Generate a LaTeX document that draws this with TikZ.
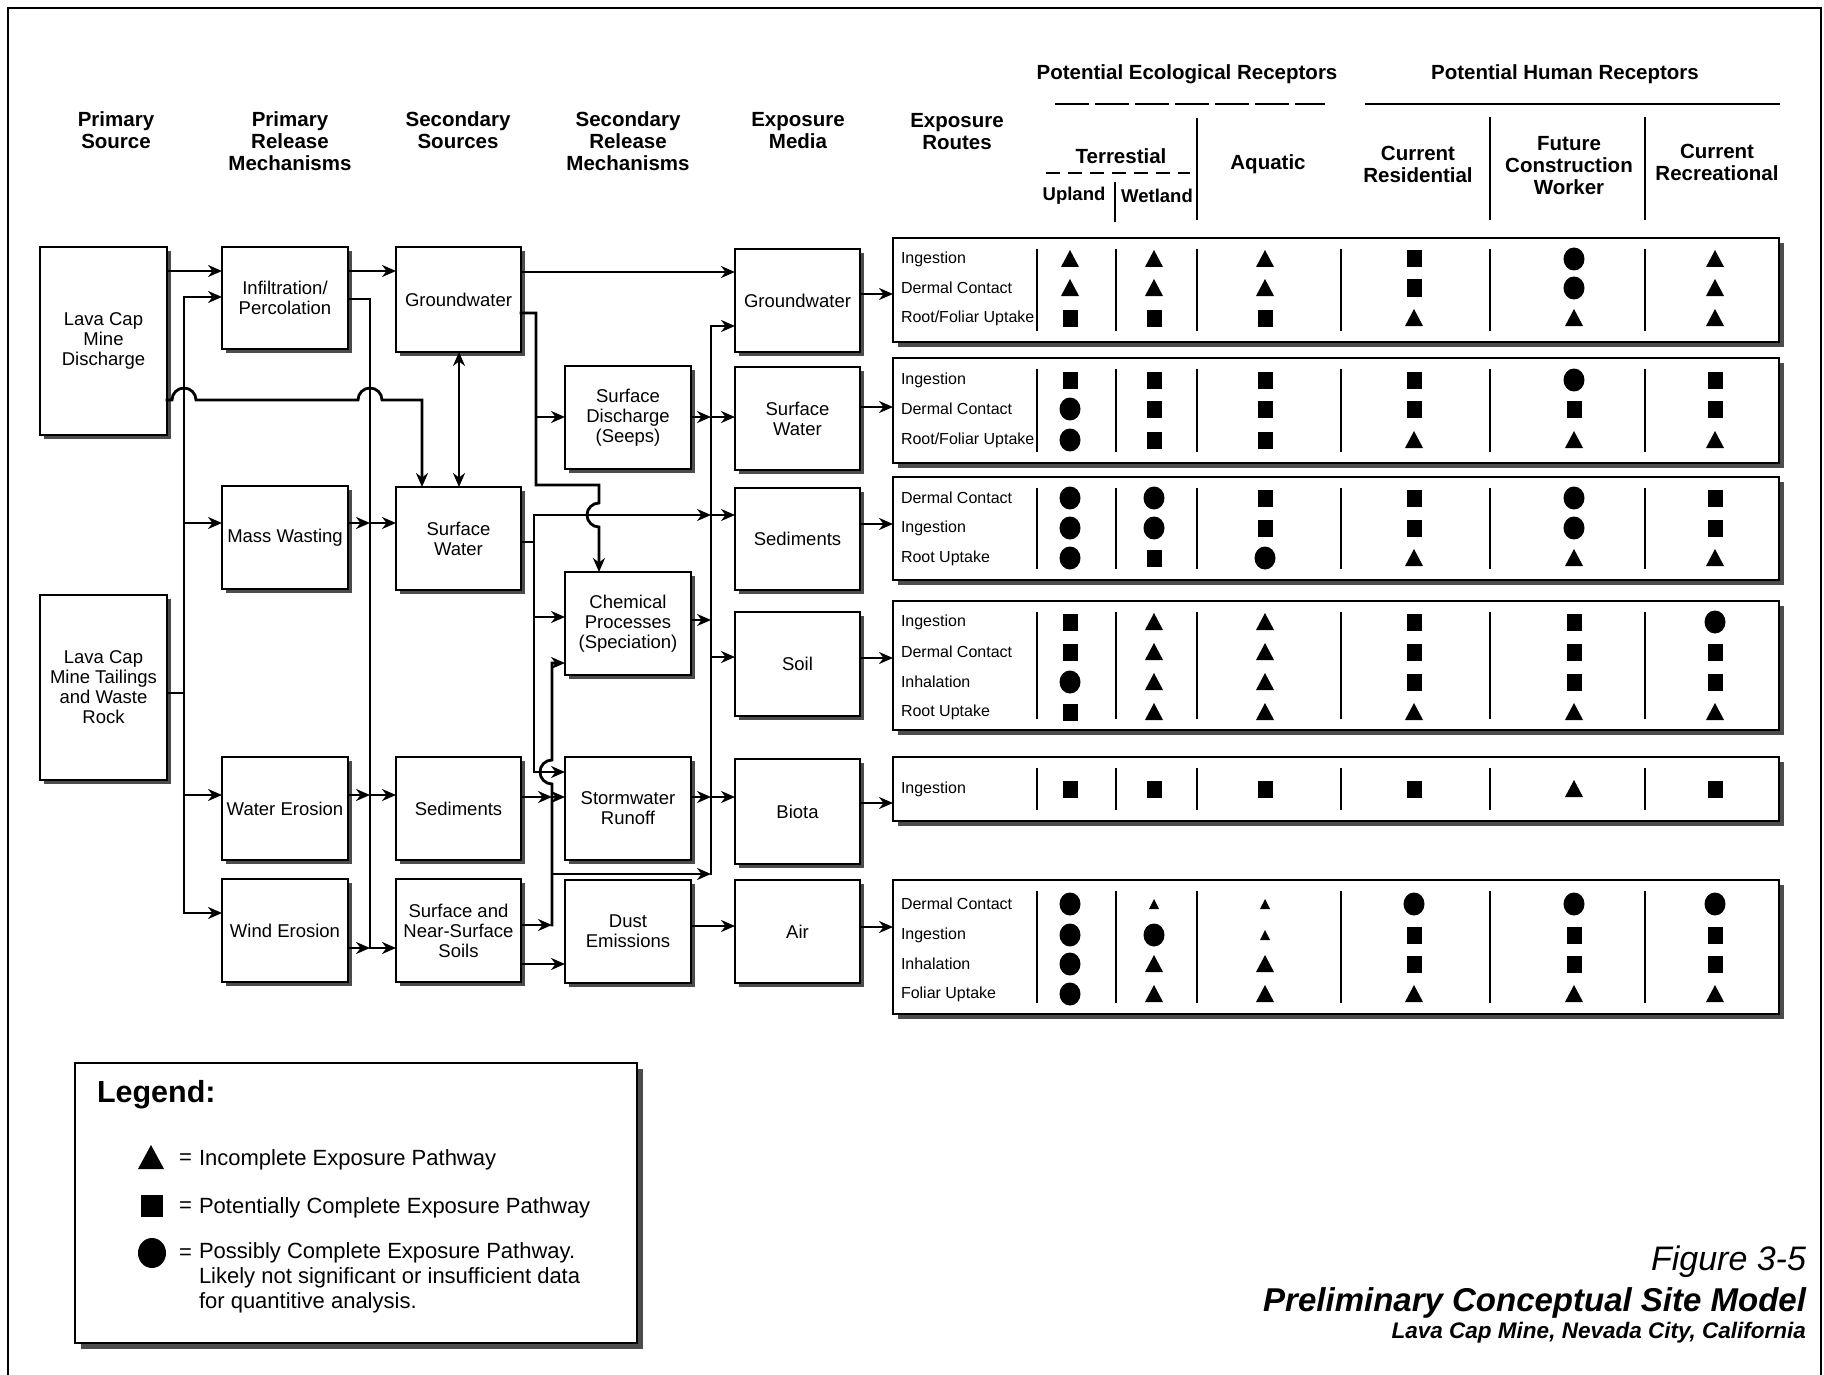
\documentclass[tikz,border=0pt]{standalone}
\usepackage{fontspec}
\setmainfont{Liberation Sans}
\usetikzlibrary{arrows.meta,shadows}
\newcommand\symT[2]{\fill (#1,#2) ++(-9,8) -- ++(9,-17) -- ++(9,17) -- cycle;}
\newcommand\symt[2]{\fill (#1,#2) ++(-5,5) -- ++(5,-10) -- ++(5,10) -- cycle;}
\newcommand\symS[2]{\fill (#1,#2) ++(-7.5,-8.5) rectangle ++(15,17);}
\newcommand\symC[2]{\fill (#1,#2) ellipse [x radius=10.5pt, y radius=11.5pt];}
\begin{document}
\begin{tikzpicture}[x=1pt,y=-1pt,
  every node/.style={inner sep=0pt, outer sep=0pt},
  box/.style={draw, line width=1.7pt, fill=white, align=center,
    font=\fontsize{18.5}{20}\selectfont,
    drop shadow={opacity=1, fill=black!70, shadow xshift=4pt, shadow yshift=-4pt}},
  tbox/.style={draw, line width=1.8pt, fill=white, minimum width=886pt,
    drop shadow={opacity=1, fill=black!70, shadow xshift=5pt, shadow yshift=-5pt}},
  hdr/.style={align=center, font=\fontsize{20.5}{22}\selectfont\bfseries},
  hdrs/.style={align=center, font=\fontsize{18.5}{20}\selectfont\bfseries},
  lab/.style={anchor=west, font=\fontsize{16}{18}\selectfont},
  ln/.style={line width=2.8pt, line cap=rect, line join=miter},
  arr/.style={ln, -{Stealth[length=14pt,width=12pt]}},
  dbl/.style={ln, {Stealth[length=14pt,width=12pt]}-{Stealth[length=14pt,width=12pt]}},
  div/.style={line width=1.4pt},
]
\useasboundingbox (0,0) rectangle (1824,1375);
% outer frame
\draw[line width=2pt] (8,1375) -- (8,8) -- (1821,8) -- (1821,1375);

% column headers
\node[hdr] (hPS) at (116,130) {Primary\\Source};
\node[hdr] (hPR) at (290,141) {Primary\\Release\\Mechanisms};
\node[hdr] (hSS) at (458,130) {Secondary\\Sources};
\node[hdr] (hSR) at (628,141) {Secondary\\Release\\Mechanisms};
\node[hdr] (hEM) at (798,131) {Exposure\\Media};
\node[hdr] (hER) at (957,132) {Exposure\\Routes};
\node[hdr] (hEco) at (1187,74) {Potential Ecological Receptors};
\node[hdr] (hHum) at (1565,74) {Potential Human Receptors};
\draw[line width=1.4pt, dash pattern=on 34pt off 6pt] (1055,104) -- (1325,104);
\draw[line width=1.6pt] (1365,104) -- (1780,104);
\node[hdr] (hTer) at (1121,156) {Terrestial};
\draw[line width=1.2pt, dash pattern=on 14pt off 8pt] (1046,173) -- (1190,173);
\node[hdrs] (hUp) at (1074,196) {Upland};
\node[hdrs] (hWet) at (1157,196) {Wetland};
\node[hdr] (hAq) at (1268,164) {Aquatic};
\node[hdr] (hRes) at (1418,164.5) {Current\\Residential};
\node[hdr] (hFut) at (1569,166) {Future\\Construction\\Worker};
\node[hdr] (hRec) at (1717,162.5) {Current\\Recreational};
\draw[div] (1115,182) -- (1115,222);
\draw[div] (1197,118) -- (1197,220);
\draw[div] (1490,117) -- (1490,220);
\draw[div] (1645,117) -- (1645,220);

% flow boxes
\node[box, minimum width=127pt, minimum height=188pt] (dis) at (103.5,341) {Lava Cap\\Mine\\Discharge};
\node[box, minimum width=127pt, minimum height=185pt] (tail) at (103.5,687.5) {Lava Cap\\Mine Tailings\\and Waste\\Rock};
\node[box, minimum width=126pt, minimum height=102pt] (inf) at (285,298) {Infiltration/\\Percolation};
\node[box, minimum width=126pt, minimum height=103pt] (mass) at (285,537.5) {Mass Wasting};
\node[box, minimum width=126pt, minimum height=103pt] (water) at (285,808.5) {Water Erosion};
\node[box, minimum width=126pt, minimum height=103pt] (wind) at (285,930.5) {Wind Erosion};
\node[box, minimum width=125pt, minimum height=105pt] (gws) at (458.5,299.5) {Groundwater};
\node[box, minimum width=125pt, minimum height=103pt] (sws) at (458.5,538.5) {Surface\\Water};
\node[box, minimum width=125pt, minimum height=103pt] (seds) at (458.5,808.5) {Sediments};
\node[box, minimum width=125pt, minimum height=103pt] (ssoil) at (458.5,930.5) {Surface and\\Near-Surface\\Soils};
\node[box, minimum width=126pt, minimum height=103pt] (sd) at (628,417.5) {Surface\\Discharge\\(Seeps)};
\node[box, minimum width=126pt, minimum height=103pt] (chem) at (628,623.5) {Chemical\\Processes\\(Speciation)};
\node[box, minimum width=126pt, minimum height=103pt] (storm) at (628,808.5) {Stormwater\\Runoff};
\node[box, minimum width=126pt, minimum height=103pt] (dust) at (628,931.5) {Dust\\Emissions};
\node[box, minimum width=125pt, minimum height=103pt] (gwm) at (797.5,300.5) {Groundwater};
\node[box, minimum width=125pt, minimum height=103pt] (swm) at (797.5,418.5) {Surface\\Water};
\node[box, minimum width=125pt, minimum height=102pt] (sedm) at (797.5,539) {Sediments};
\node[box, minimum width=125pt, minimum height=104pt] (soil) at (797.5,664) {Soil};
\node[box, minimum width=125pt, minimum height=105pt] (biota) at (797.5,811.5) {Biota};
\node[box, minimum width=125pt, minimum height=103pt] (air) at (797.5,931.5) {Air};

% table row boxes
\node[tbox, minimum height=104pt] (r1) at (1336,290) {};
\node[tbox, minimum height=105pt] (r2) at (1336,410.5) {};
\node[tbox, minimum height=103pt] (r3) at (1336,528.5) {};
\node[tbox, minimum height=129pt] (r4) at (1336,665.5) {};
\node[tbox, minimum height=64pt] (r5) at (1336,789) {};
\node[tbox, minimum height=134pt] (r6) at (1336,947) {};
\foreach \tp/\bt in {238/342,358/463,477/580,601/730,757/821,880/1014}{
  \foreach \xx in {1037,1116,1197,1341,1490,1645}{
    \draw[div] (\xx,\tp+11) -- (\xx,\bt-11);
  }
}

% junction coordinates
\coordinate (jA1) at (184,297); \coordinate (jA2) at (184,523);
\coordinate (jA3) at (184,693); \coordinate (jA4) at (184,795);
\coordinate (jA5) at (184,913);
\coordinate (jB0) at (370,299); \coordinate (jB1) at (370,523);
\coordinate (jB2) at (370,795); \coordinate (jB3) at (370,948);
\coordinate (jC1) at (536,313); \coordinate (jC2) at (536,417);
\coordinate (jC3) at (536,485); \coordinate (jC4) at (599,485);
\coordinate (jD1) at (534,542); \coordinate (jD2) at (534,515);
\coordinate (jD3) at (534,617); \coordinate (jD4) at (534,772);
\coordinate (jE1) at (711,326); \coordinate (jE2) at (711,417);
\coordinate (jE3) at (711,515); \coordinate (jE4) at (711,620);
\coordinate (jE5) at (711,657); \coordinate (jE6) at (711,797);
\coordinate (jE7) at (711,874);
\coordinate (jF1) at (552,663); \coordinate (jF2) at (552,797);
\coordinate (jF3) at (552,874); \coordinate (jF4) at (552,925);

% connectors, left part
\draw[arr] (dis.east |- 0,271) -- (inf.west |- 0,271);
\draw[arr] (tail.east |- jA3) -- (jA3) -- (jA1) -- (inf.west |- jA1);
\draw[arr] (jA3) -- (jA5) -- (wind.west |- jA5);
\draw[arr] (jA2) -- (mass.west |- jA2);
\draw[arr] (jA4) -- (water.west |- jA4);
\draw[arr] (dis.east |- 0,400) -- (172,400) arc[start angle=180,end angle=0,radius=12pt]
  -- (358,400) arc[start angle=180,end angle=0,radius=12pt] -- (422,400) -- (sws.north -| 422,400);
\draw[arr] (inf.east |- 0,271) -- (gws.west |- 0,271);
\draw[ln] (inf.east |- jB0) -- (jB0) -- (jB3);
\draw[arr] (mass.east |- jB1) -- (jB1);
\draw[arr] (jB1) -- (sws.west |- jB1);
\draw[arr] (water.east |- jB2) -- (jB2);
\draw[arr] (jB2) -- (seds.west |- jB2);
\draw[arr] (wind.east |- jB3) -- (jB3);
\draw[arr] (jB3) -- (ssoil.west |- jB3);
\draw[dbl] (gws.south -| 459,0) -- (sws.north -| 459,0);

% connectors, middle part
\draw[arr] (gws.east |- 0,272) -- (gwm.west |- 0,272);
\draw[arr] (gws.east |- jC1) -- (jC1) -- (jC3) -- (jC4) -- (599,503)
  arc[start angle=90,end angle=270,radius=12pt] -- (chem.north -| jC4);
\draw[arr] (jC2) -- (sd.west |- jC2);
\draw[ln] (sws.east |- jD1) -- (jD1);
\draw[ln] (jD2) -- (jD4);
\draw[arr] (jD2) -- (jE3);
\draw[arr] (jD3) -- (chem.west |- jD3);
\draw[arr] (jD4) -- (storm.west |- jD4);
\draw[arr] (seds.east |- jF2) -- (jF2);
\draw[arr] (jF2) -- (storm.west |- jF2);
\draw[arr] (ssoil.east |- jF4) -- (jF4);
\draw[arr] (jF4) -- (552,784) arc[start angle=270,end angle=90,radius=12pt] -- (jF1) -- (chem.west |- jF1);
\draw[arr] (jF3) -- (jE7);
\draw[arr] (ssoil.east |- 0,964) -- (dust.west |- 0,964);
\draw[arr] (dust.east |- 0,926) -- (air.west |- 0,926);

% bus to media
\draw[ln] (jE1) -- (jE7);
\draw[arr] (jE1) -- (gwm.west |- jE1);
\draw[arr] (sd.east |- jE2) -- (jE2);
\draw[arr] (jE2) -- (swm.west |- jE2);
\draw[arr] (jE3) -- (sedm.west |- jE3);
\draw[arr] (chem.east |- jE4) -- (jE4);
\draw[arr] (jE5) -- (soil.west |- jE5);
\draw[arr] (storm.east |- jE6) -- (jE6);
\draw[arr] (jE6) -- (biota.west |- jE6);

% media to exposure routes
\draw[arr] (gwm.east |- 0,294) -- (r1.west |- 0,294);
\draw[arr] (swm.east |- 0,407) -- (r2.west |- 0,407);
\draw[arr] (sedm.east |- 0,524) -- (r3.west |- 0,524);
\draw[arr] (soil.east |- 0,658) -- (r4.west |- 0,658);
\draw[arr] (biota.east |- 0,803) -- (r5.west |- 0,803);
\draw[arr] (air.east |- 0,927) -- (r6.west |- 0,927);

% row labels
\node[lab] (l11) at (901,259) {Ingestion};
\node[lab] (l12) at (901,288) {Dermal Contact};
\node[lab] (l13) at (901,318) {Root/Foliar Uptake};
\node[lab] (l21) at (901,380) {Ingestion};
\node[lab] (l22) at (901,409) {Dermal Contact};
\node[lab] (l23) at (901,440) {Root/Foliar Uptake};
\node[lab] (l31) at (901,498) {Dermal Contact};
\node[lab] (l32) at (901,528) {Ingestion};
\node[lab] (l33) at (901,558) {Root Uptake};
\node[lab] (l41) at (901,622) {Ingestion};
\node[lab] (l42) at (901,652) {Dermal Contact};
\node[lab] (l43) at (901,682) {Inhalation};
\node[lab] (l44) at (901,712) {Root Uptake};
\node[lab] (l51) at (901,789) {Ingestion};
\node[lab] (l61) at (901,904) {Dermal Contact};
\node[lab] (l62) at (901,935) {Ingestion};
\node[lab] (l63) at (901,964) {Inhalation};
\node[lab] (l64) at (901,994) {Foliar Uptake};

% symbols
\foreach \yy/\ca/\cb/\cc/\cd/\ce/\cf in {
  259/T/T/T/S/C/T, 288/T/T/T/S/C/T, 318/S/S/S/T/T/T,
  380/S/S/S/S/C/S, 409/C/S/S/S/S/S, 440/C/S/S/T/T/T,
  498/C/C/S/S/C/S, 528/C/C/S/S/C/S, 558/C/S/C/T/T/T,
  622/S/T/T/S/S/C, 652/S/T/T/S/S/S, 682/C/T/T/S/S/S, 712/S/T/T/T/T/T,
  789/S/S/S/S/T/S,
  904/C/t/t/C/C/C, 935/C/C/t/S/S/S, 964/C/T/T/S/S/S, 994/C/T/T/T/T/T}{
  \csname sym\ca\endcsname{1070}{\yy}
  \csname sym\cb\endcsname{1154}{\yy}
  \csname sym\cc\endcsname{1265}{\yy}
  \csname sym\cd\endcsname{1414}{\yy}
  \csname sym\ce\endcsname{1574}{\yy}
  \csname sym\cf\endcsname{1715}{\yy}
}

% legend
\node[draw, line width=1.6pt, fill=white, minimum width=562pt, minimum height=280pt,
  drop shadow={opacity=1, fill=black!70, shadow xshift=6pt, shadow yshift=-6pt}] (leg) at (356,1203) {};
\node[anchor=west, font=\fontsize{30.5}{32}\selectfont\bfseries] (legt) at (97,1095) {Legend:};
\fill (151,1157) ++(-13,12) -- ++(13,-24) -- ++(13,24) -- cycle;
\fill (152,1206) ++(-11,-11) rectangle ++(22,22);
\fill (152,1253) ellipse [x radius=14pt, y radius=15pt];
\node[anchor=west, font=\fontsize{22}{25}\selectfont] (eq1) at (179,1159) {=};
\node[anchor=west, font=\fontsize{22}{25}\selectfont] (eq2) at (179,1207) {=};
\node[anchor=west, font=\fontsize{22}{25}\selectfont] (eq3) at (179,1254) {=};
\node[anchor=west, font=\fontsize{22}{25}\selectfont] (lg1) at (199,1160) {Incomplete Exposure Pathway};
\node[anchor=west, font=\fontsize{22}{25}\selectfont] (lg2) at (199,1208) {Potentially Complete Exposure Pathway};
\node[anchor=north west, align=left, font=\fontsize{22}{25}\selectfont] (lg3) at (199,1243) {Possibly Complete Exposure Pathway.\\Likely not significant or insufficient data\\for quantitive analysis.};

% title
\node[anchor=east, font=\fontsize{34}{36}\selectfont\itshape] (t1) at (1806,1262) {Figure 3-5};
\node[anchor=east, font=\fontsize{33}{35}\selectfont\bfseries\itshape] (t2) at (1806,1303) {Preliminary Conceptual Site Model};
\node[anchor=east, font=\fontsize{22.5}{24}\selectfont\bfseries\itshape] (t3) at (1806,1333) {Lava Cap Mine, Nevada City, California};
\end{tikzpicture}
\end{document}
